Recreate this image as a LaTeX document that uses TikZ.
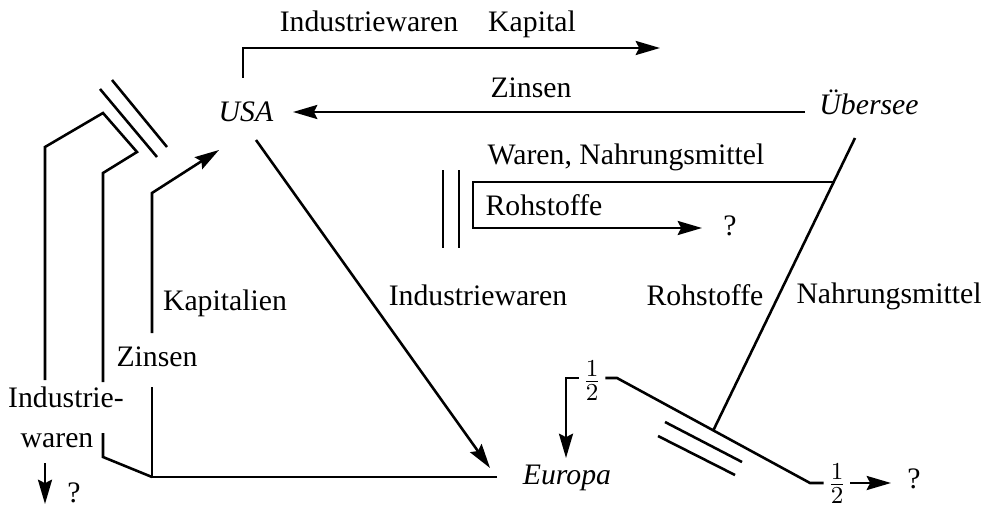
\documentclass[tikz,border=0pt]{standalone}
\usepackage{fontspec}
\setmainfont{Liberation Serif}
\usepackage{tikz}
\usetikzlibrary{arrows.meta,calc,positioning}
\tikzset{
		>={Stealth[length=9pt,width=5.2pt,inset=1.3pt]},
		lbl/.style={font=\fontsize{11}{13}\selectfont,inner sep=1pt,anchor=base},
		land/.style={lbl,font=\fontsize{11}{13}\selectfont\itshape},
		half/.style={font=\fontsize{13}{14}\selectfont,inner sep=1pt}
	}

\begin{document}
\begin{tikzpicture}[x=0.013cm,y=-0.013cm,line width=0.95pt]
          \useasboundingbox (0,0) rectangle (983,508);

          \node[land] (USA) at (246,122) {USA};
          \node[land] (EU) at (567,484) {Europa};
          \node[land] (UE) at (869,115) {Übersee};

          % USA nach Übersee
          \coordinate (T1) at (243,78);
          \coordinate (T2) at (243,48);
          \coordinate (T3) at (660,48);
          \draw[->] (T1) -- (T2) -- (T3);
          \node[lbl] (iwT) at (369,32) {Industriewaren};
          \node[lbl] (kap) at (532,32) {Kapital};

          % Übersee nach USA
          \coordinate (R1) at (805,112);
          \coordinate (R2) at (293,112);
          \draw[->] (R1) -- (R2);
          \node[lbl] (zinT) at (531,98) {Zinsen};

          % USA nach Europa
          \coordinate (D1) at (256,140);
          \coordinate (D2) at (490,468);
          \draw[->] (D1) -- (D2);
          \node[lbl] (iwM) at (478,305) {Industriewaren};

          % Europa zurück nach USA
          \coordinate (B1) at (497,477);
          \coordinate (B0) at (152,477);
          \coordinate (K1) at (152,387);
          \coordinate (K2) at (152,333);
          \coordinate (K3) at (152,193);
          \coordinate (K4) at (219,150);
          \draw (B1) -- (B0) -- (K1);
          \draw[->] (K2) -- (K3) -- (K4);
          \node[lbl] (kapL) at (225,310) {Kapitalien};

          \coordinate (Z1) at (103,457);
          \coordinate (Z2) at (103,433);
          \coordinate (Z3) at (103,382);
          \coordinate (Z4) at (103,173);
          \coordinate (Z5) at (137,152);
          \coordinate (Z6) at (103,113);
          \coordinate (Z7) at (45,147);
          \coordinate (Z8) at (45,380);
          \coordinate (Q1) at (45,463);
          \coordinate (Q2) at (45,504);
          \draw (B0) -- (Z1) -- (Z2);
          \draw (Z3) -- (Z4) -- (Z5) -- (Z6) -- (Z7) -- (Z8);
          \draw[->] (Q1) -- (Q2);
          \node[lbl] (zinL) at (157,366) {Zinsen};
          \node[lbl] (iw1) at (66,407) {Industrie-};
          \node[lbl] (iw2) at (57,447) {waren};
          \node[lbl] (qL) at (74,502) {?};

          \draw (100,89) -- (157,157);% Sperre
          \draw (112,80) -- (167,147);

          % Übersee nach Europa
          \coordinate (O1) at (855,138);
          \coordinate (O2) at (713,431);
          \draw (O1) -- (O2);
          \node[lbl] (roh) at (705,305) {Rohstoffe};
          \node[lbl] (nah) at (889,303) {Nahrungsmittel};

          \coordinate (W1) at (834,182);
          \coordinate (W2) at (473,182);
          \coordinate (W3) at (473,228);
          \coordinate (W4) at (702,228);
          \draw[->] (W1) -- (W2) -- (W3) -- (W4);
          \node[lbl] (war) at (626,165) {Waren, Nahrungsmittel};
          \node[lbl] (rohT) at (544,215) {Rohstoffe};
          \node[lbl] (qT) at (730,235) {?};
          \draw (443,170) -- (443,248);% Sperre
          \draw (459,170) -- (459,248);

          % Aufteilung
          \node[half] (hL) at (592,381) {$\frac{1}{2}$};
          \node[half] (hR) at (837,484) {$\frac{1}{2}$};
          \coordinate (H1) at (566,458);
          \coordinate (H2) at (617,378);
          \coordinate (H3) at (810,483);
          \coordinate (H4) at (891,483);
          \draw[->] (hL.west |- H2) -| (H1);
          \draw (hL.east |- H2) -- (H2) -- (H3) -- (H3 -| hR.west);
          \draw[->] (hR.east |- H4) -- (H4);
          \node[lbl] (qR) at (914,488) {?};
          \draw (665,422) -- (742,462);% Sperre
          \draw (658,436) -- (735,475);

\end{tikzpicture}
\end{document}
